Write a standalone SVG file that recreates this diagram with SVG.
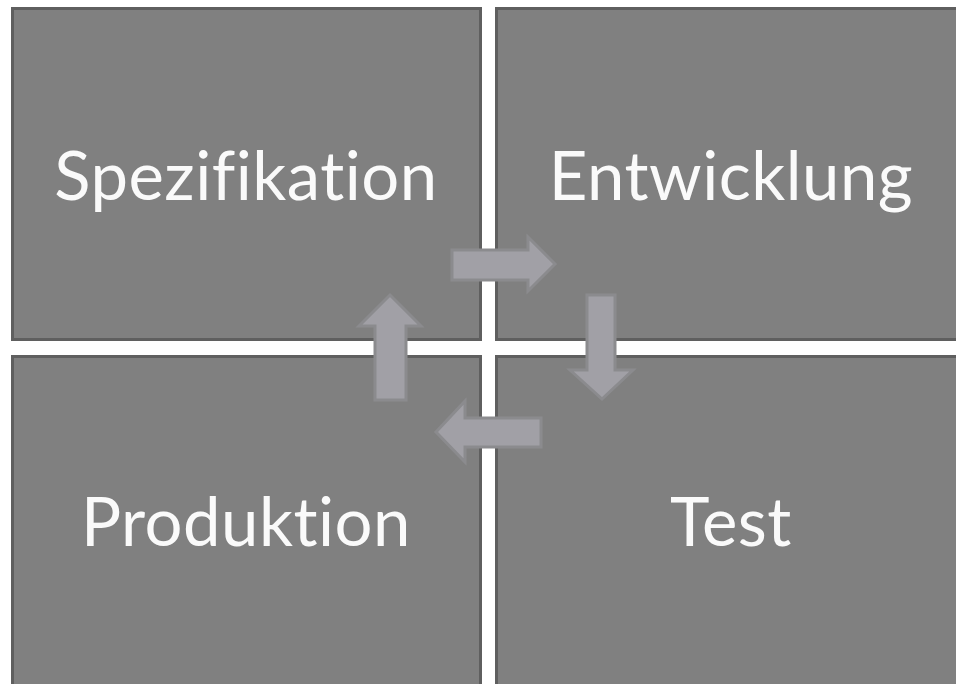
<svg xmlns="http://www.w3.org/2000/svg" width="956" height="684" viewBox="0 0 956 684">
<style>
.box{fill:#808080;stroke:#5f5f5f;stroke-width:3}
.lbl{font-family:Lato,"Open Sans","Liberation Sans",sans-serif;font-size:67px;fill:#fafafa;text-anchor:middle;font-variant-ligatures:none;letter-spacing:0.5px}
.arr{fill:#a1a0a6;stroke:#8b8b8e;stroke-width:3;stroke-linejoin:miter}
</style>
<rect width="956" height="684" fill="#ffffff"/>
<g id="spezifikation">
<rect class="box" x="12.5" y="8.5" width="468" height="331"/>
<text class="lbl" x="246" y="200">Spezifikation</text>
</g>
<g id="entwicklung">
<rect class="box" x="496.5" y="8.5" width="470" height="331"/>
<text class="lbl" x="731" y="200">Entwicklung</text>
</g>
<g id="produktion">
<rect class="box" x="12.5" y="356.5" width="468" height="340"/>
<text class="lbl" x="246" y="546">Produktion</text>
</g>
<g id="test">
<rect class="box" x="496.5" y="356.5" width="470" height="340"/>
<text class="lbl" x="731" y="546">Test</text>
</g>
<g id="connectors">
<polygon class="arr" points="452,250 528,250 528,237 555,264 528,291 528,280 452,280"/>
<polygon class="arr" points="587,295 615,295 615,370 633,370 602,399 570,370 587,370"/>
<polygon class="arr" points="541,418 465,418 465,401 436,432 465,462 465,447 541,447"/>
<polygon class="arr" points="375,400 406,400 406,326 421,326 390,295 359,326 375,326"/>
</g>
</svg>
